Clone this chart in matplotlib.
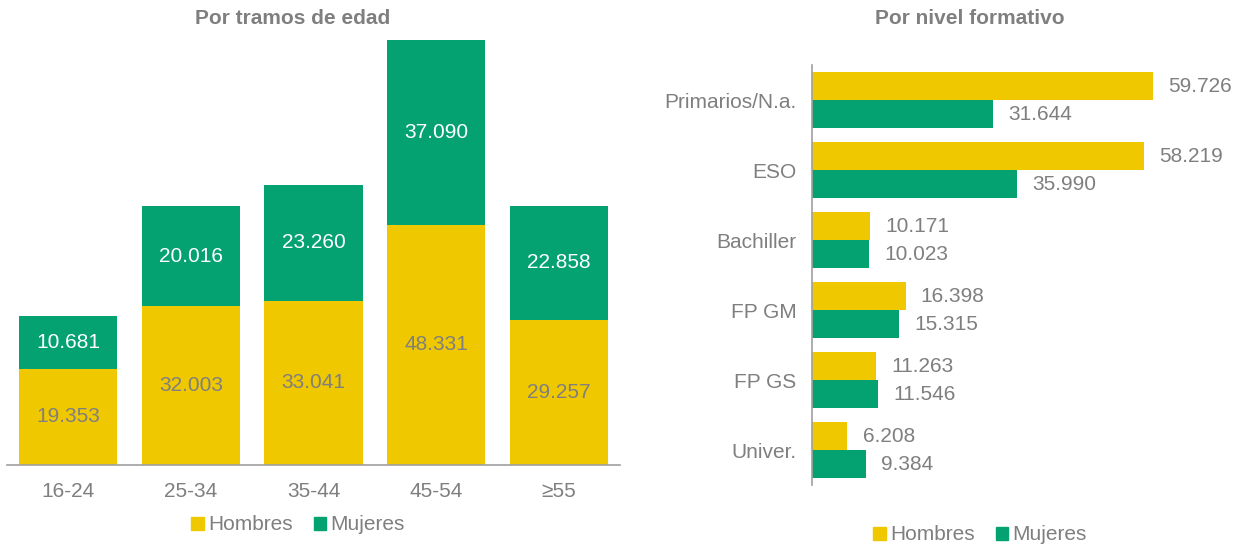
import matplotlib
matplotlib.use("Agg")
import matplotlib.pyplot as plt
import numpy as np
from matplotlib.patches import Patch

plt.rcParams['font.family'] = ['Liberation Sans', 'DejaVu Sans']

# Data
age_groups = ["16-24", "25-34", "35-44", "45-54", "≥55"]
age_hombres = [19.353, 32.003, 33.041, 48.331, 29.257]
age_mujeres = [10.681, 20.016, 23.260, 37.090, 22.858]

edu_levels = ["Primarios/N.a.", "ESO", "Bachiller", "FP GM", "FP GS", "Univer."]
edu_hombres = [59.726, 58.219, 10.171, 16.398, 11.263, 6.208]
edu_mujeres = [31.644, 35.990, 10.023, 15.315, 11.546, 9.384]

YEL = "#F0C800"
GRN = "#05A271"
GREY = "#7F7F7F"
FS = 15

def fmt(v):
    return f"{v:.3f}"

fig = plt.figure(figsize=(12.4, 5.47), dpi=100)

# Left: stacked columns
ax1 = fig.add_axes([7/1240, 1-465/547, 613/1240, 425/547])
x = np.arange(len(age_groups))
ax1.bar(x, age_hombres, width=0.8, color=YEL)
ax1.bar(x, age_mujeres, width=0.8, bottom=age_hombres, color=GRN)
for i in range(len(x)):
    ax1.text(x[i], age_hombres[i]/2, fmt(age_hombres[i]), ha='center', va='center',
             fontsize=FS, color=GREY)
    ax1.text(x[i], age_hombres[i] + age_mujeres[i]/2, fmt(age_mujeres[i]), ha='center',
             va='center', fontsize=FS, color='white')
ax1.set_xlim(-0.5, len(x)-0.5)
ax1.set_ylim(0, 85.5)
ax1.set_xticks(x)
ax1.set_xticklabels(age_groups, fontsize=FS, color=GREY)
ax1.tick_params(axis='x', length=0, pad=12)
ax1.set_yticks([])
for s in ['top', 'right', 'left']:
    ax1.spines[s].set_visible(False)
ax1.spines['bottom'].set_color('#A0A0A0')
ax1.spines['bottom'].set_linewidth(1.2)
fig.text(293/1240, 1-18/547, "Por tramos de edad", ha='center', va='center',
         fontsize=15, fontweight='bold', color=GREY)

handles = [Patch(color=YEL, label="Hombres"), Patch(color=GRN, label="Mujeres")]
fig.legend(handles=handles, loc='center', bbox_to_anchor=(298/1240, 1-525/547), ncol=2,
           frameon=False, fontsize=FS, handlelength=0.6, handleheight=0.6,
           handletextpad=0.2, columnspacing=1.0, labelcolor=GREY)

# Right: grouped horizontal bars
ax2 = fig.add_axes([812/1240, 1-485/547, 428/1240, 420/547])
y = np.arange(len(edu_levels))
h = 0.4
ax2.barh(y - h/2, edu_hombres, height=h, color=YEL)
ax2.barh(y + h/2, edu_mujeres, height=h, color=GRN)
for i in range(len(y)):
    ax2.annotate(fmt(edu_hombres[i]), (edu_hombres[i], y[i]-h/2), xytext=(11, 0),
                 textcoords='offset points', ha='left', va='center', fontsize=FS, color=GREY)
    ax2.annotate(fmt(edu_mujeres[i]), (edu_mujeres[i], y[i]+h/2), xytext=(11, 0),
                 textcoords='offset points', ha='left', va='center', fontsize=FS, color=GREY)
ax2.set_ylim(len(y)-0.5, -0.5)
ax2.set_xlim(0, 75)
ax2.set_yticks(y)
ax2.set_yticklabels(edu_levels, fontsize=FS, color=GREY)
ax2.tick_params(axis='y', length=0, pad=11)
ax2.set_xticks([])
for s in ['top', 'right', 'bottom']:
    ax2.spines[s].set_visible(False)
ax2.spines['left'].set_color('#A0A0A0')
ax2.spines['left'].set_linewidth(1.2)
fig.text(970/1240, 1-18/547, "Por nivel formativo", ha='center', va='center',
         fontsize=15, fontweight='bold', color=GREY)
fig.legend(handles=handles, loc='center', bbox_to_anchor=(980/1240, 1-535/547), ncol=2,
           frameon=False, fontsize=FS, handlelength=0.6, handleheight=0.6,
           handletextpad=0.2, columnspacing=1.0, labelcolor=GREY)

fig.savefig("out.png", dpi=100)
